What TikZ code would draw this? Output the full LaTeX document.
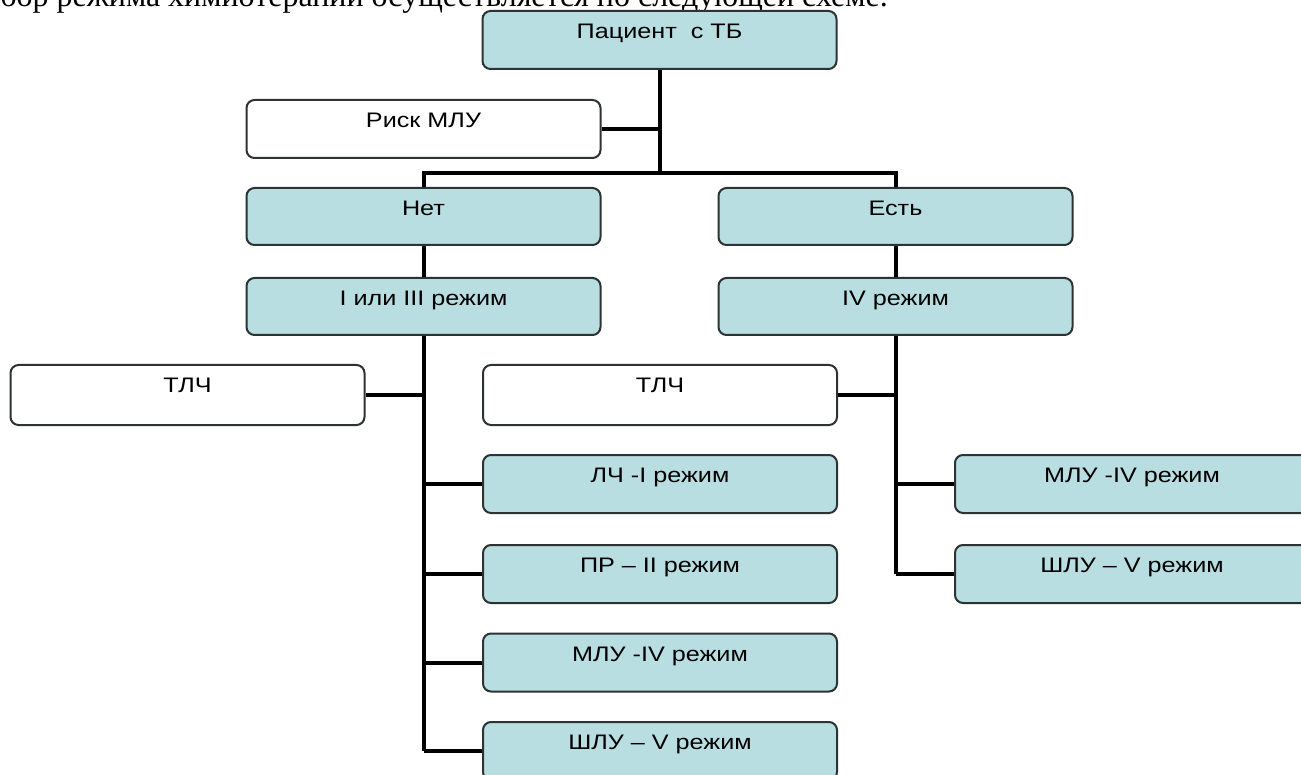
\documentclass[tikz,border=0pt]{standalone}
\usepackage{fontspec}
\setmainfont{Liberation Sans}
\newfontfamily\serifru{Liberation Serif}
\newfontfamily\boxfont[FakeStretch=1.2]{Liberation Sans}
\definecolor{boxblue}{RGB}{185,222,226}
\definecolor{boxline}{RGB}{45,50,50}
\tikzset{
  box/.style={draw=boxline, line width=2pt, rounded corners=8pt, minimum height=58pt, minimum width=354pt, inner sep=0pt},
  bluebox/.style={box, fill=boxblue},
  whitebox/.style={box, fill=white},
  lbl/.style={anchor=north, yshift=-14pt, inner sep=0pt, font=\boxfont\fontsize{21}{24}\selectfont},
  conn/.style={line width=4pt, black},
}
\begin{document}
\begin{tikzpicture}[x=1pt,y=-1pt]
\useasboundingbox (0,0) rectangle (1301,775);
\clip (0,0) rectangle (1301,775);
\fill[white] (0,0) rectangle (1301,775);
\node[anchor=base east, inner sep=0pt, font=\serifru\fontsize{32}{36}\selectfont] (title) at (888,6.5) {Выбор режима химиотерапии осуществляется по следующей схеме.};

\node[bluebox, label={[lbl]north:Пациент\ \ с ТБ}] (pac) at (659.5,40) {};
\node[whitebox, label={[lbl]north:Риск МЛУ}] (risk) at (423.5,129) {};
\node[bluebox, minimum height=57pt, label={[lbl]north:Нет}] (net) at (423.5,216.5) {};
\node[bluebox, minimum height=57pt, label={[lbl]north:Есть}] (est) at (895.5,216.5) {};
\node[bluebox, minimum height=57pt, label={[lbl]north:I или III режим}] (r13) at (423.5,306.5) {};
\node[bluebox, minimum height=57pt, label={[lbl]north:IV режим}] (r4) at (895.5,306.5) {};
\node[whitebox, minimum height=60pt, label={[lbl]north:ТЛЧ}] (tlcL) at (187.5,395) {};
\node[whitebox, minimum height=60pt, label={[lbl]north:ТЛЧ}] (tlcR) at (660,395) {};
\node[bluebox, label={[lbl]north:ЛЧ -I режим}] (lch) at (660,484) {};
\node[bluebox, label={[lbl]north:ПР – II режим}] (pr) at (660,574) {};
\node[bluebox, label={[lbl]north:МЛУ -IV режим}] (mluL) at (660,662.5) {};
\node[bluebox, label={[lbl]north:ШЛУ – V режим}] (shluL) at (660,751) {};
\node[bluebox, label={[lbl]north:МЛУ -IV режим}] (mluR) at (1132,484) {};
\node[bluebox, label={[lbl]north:ШЛУ – V режим}] (shluR) at (1132,574) {};

\coordinate (j1) at (659.5,173);
\draw[conn] (pac.south) -- (j1);
\draw[conn] (risk.east) -- (risk.east -| pac.south);
\draw[conn] (net.north) |- (j1) -| (est.north);
\draw[conn] (net.south) -- (r13.north);
\draw[conn] (est.south) -- (r4.north);

\draw[conn] (r13.south) -- (r13.south |- shluL.west);
\draw[conn] (tlcL.east) -- (tlcL.east -| r13.south);
\draw[conn] (lch.west) -- (lch.west -| r13.south);
\draw[conn] (pr.west) -- (pr.west -| r13.south);
\draw[conn] (mluL.west) -- (mluL.west -| r13.south);
\draw[conn] (shluL.west) -- (shluL.west -| r13.south);

\draw[conn] (r4.south) -- (r4.south |- shluR.west);
\draw[conn] (tlcR.east) -- (tlcR.east -| r4.south);
\draw[conn] (mluR.west) -- (mluR.west -| r4.south);
\draw[conn] (shluR.west) -- (shluR.west -| r4.south);
\end{tikzpicture}
\end{document}
